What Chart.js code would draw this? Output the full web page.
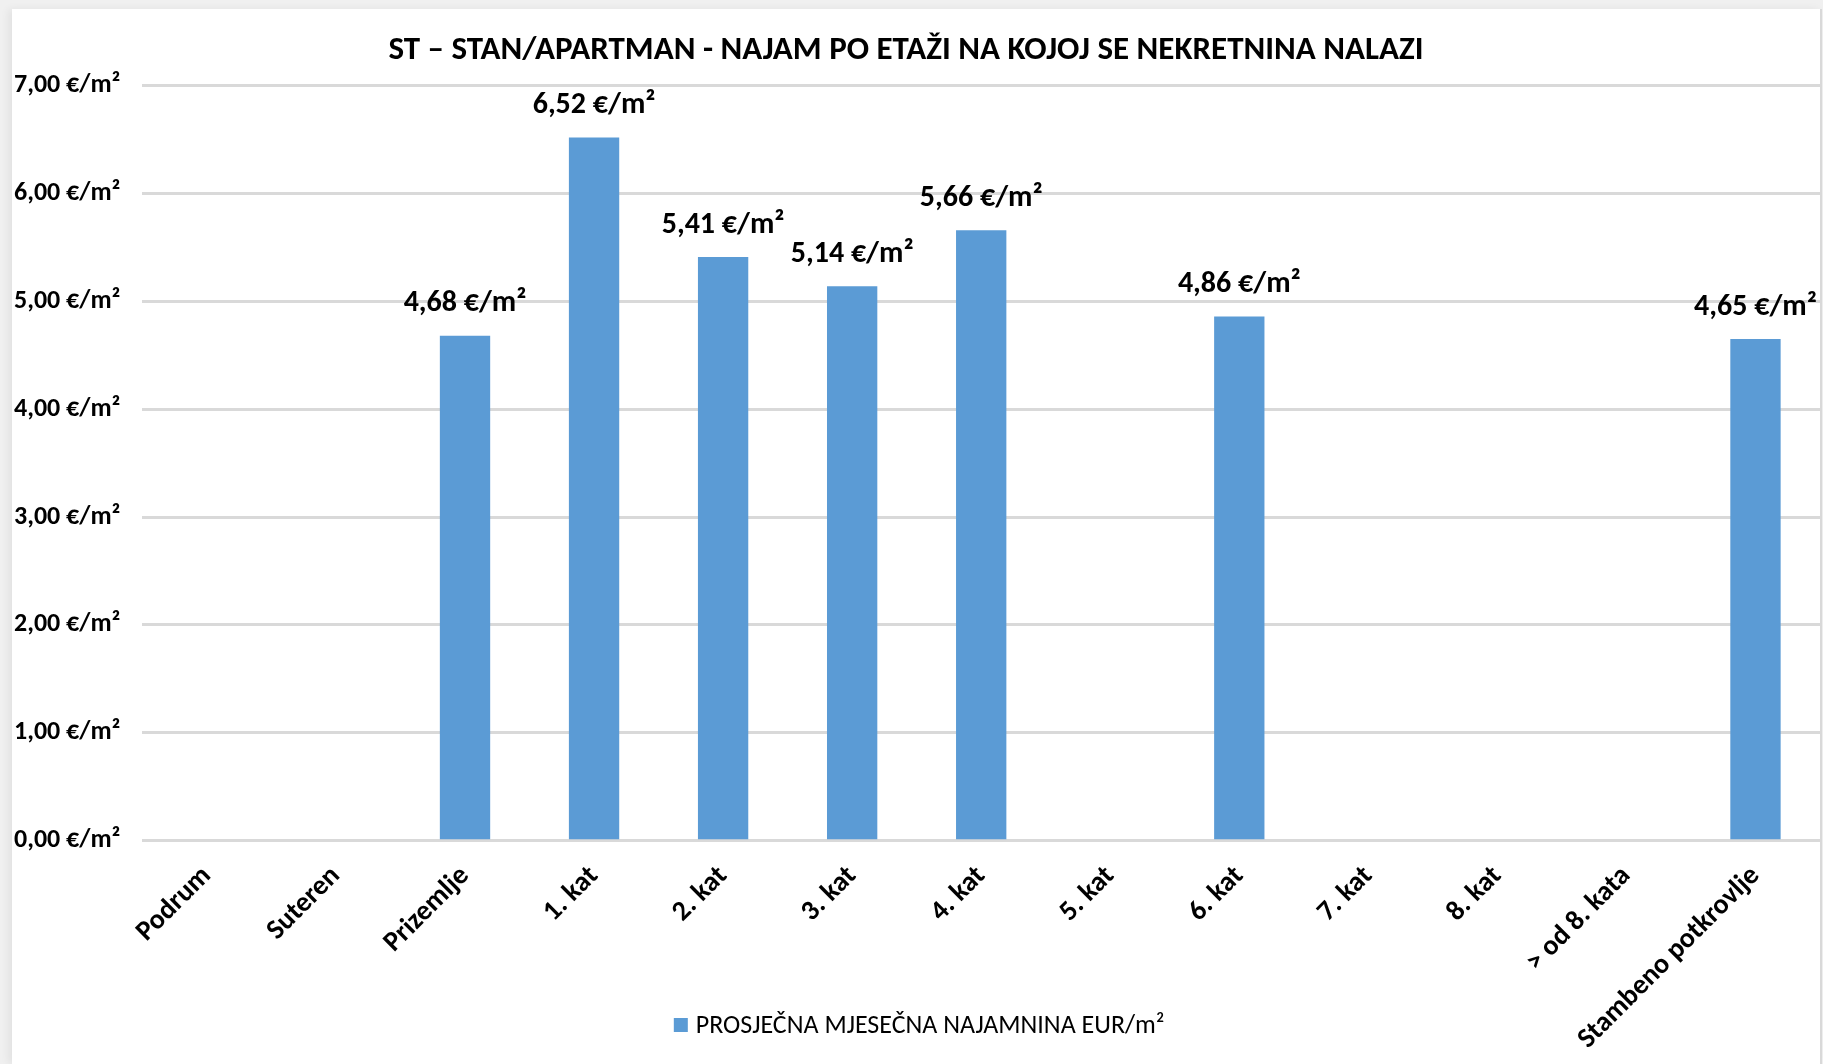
<!DOCTYPE html>
<html>
<head>
<meta charset="utf-8">
<script src="https://cdn.jsdelivr.net/npm/chart.js@4.4.1/dist/chart.umd.min.js"></script>
<style>
  html, body { margin: 0; padding: 0; background: #f0f0f0; width: 1823px; height: 1064px; overflow: hidden; }
  #panel { position: absolute; left: 12px; top: 9px; width: 1808px; height: 1055px; background: #ffffff; border-right: 2px solid #d9d9d9; box-shadow: -4px 0 8px rgba(0,0,0,0.06); }
  canvas { display: block; }
</style>
</head>
<body>
<div id="panel"><canvas id="c" width="1808" height="1055"></canvas></div>
<script>
const categories = ['Podrum', 'Suteren', 'Prizemlje', '1. kat', '2. kat', '3. kat', '4. kat', '5. kat', '6. kat', '7. kat', '8. kat', '> od 8. kata', 'Stambeno potkrovlje'];
const rentValues = [null, null, 4.68, 6.52, 5.41, 5.14, 5.66, null, 4.86, null, null, null, 4.65];
const seriesName = 'PROSJEČNA MJESEČNA NAJAMNINA EUR/m²';
const chartTitle = 'ST – STAN/APARTMAN - NAJAM PO ETAŽI NA KOJOJ SE NEKRETNINA NALAZI';
const yTicks = [0, 1, 2, 3, 4, 5, 6, 7];

const FONT = 'Carlito, Lato, "Open Sans", sans-serif';
const fmt = v => v.toFixed(2).replace('.', ',') + ' €/m²';

const dataLabels = {
  id: 'dataLabels',
  afterDatasetsDraw(chart) {
    const ctx = chart.ctx;
    const meta = chart.getDatasetMeta(0);
    ctx.save();
    ctx.font = 'bold 30px ' + FONT;
    ctx.fillStyle = '#000';
    ctx.textAlign = 'center';
    ctx.textBaseline = 'middle';
    meta.data.forEach((bar, i) => {
      const v = chart.data.datasets[0].data[i];
      if (v == null) return;
      const txt = fmt(v);
      const w = ctx.measureText(txt).width;
      let x = bar.x;
      const maxX = chart.width - w / 2 - 3;
      if (x > maxX) x = maxX;
      ctx.fillText(txt, x, bar.y - 32);
    });
    ctx.restore();
  }
};

const customLegend = {
  id: 'customLegend',
  afterDraw(chart) {
    const ctx = chart.ctx;
    const ds = chart.data.datasets[0];
    ctx.save();
    ctx.font = '26px ' + FONT;
    const tw = ctx.measureText(ds.label).width;
    const box = 14, gap = 8;
    const total = box + gap + tw;
    const cx = (chart.chartArea.left + chart.chartArea.right) / 2 - 62;
    const y = chart.height - 39;
    const x0 = cx - total / 2;
    ctx.fillStyle = ds.backgroundColor;
    ctx.fillRect(x0, y - box / 2, box, box);
    ctx.fillStyle = '#000';
    ctx.textBaseline = 'middle';
    ctx.textAlign = 'left';
    ctx.fillText(ds.label, x0 + box + gap, y + 1);
    ctx.restore();
  }
};

new Chart(document.getElementById('c'), {
  type: 'bar',
  data: {
    labels: categories,
    datasets: [{
      label: seriesName,
      data: rentValues,
      backgroundColor: '#5b9bd5',
      borderWidth: 0,
      categoryPercentage: 1.0,
      barPercentage: 0.39
    }]
  },
  options: {
    responsive: false,
    animation: false,
    layout: { padding: { left: -20, right: 0, top: 0, bottom: -11 } },
    plugins: {
      legend: { display: false },
      tooltip: { enabled: false },
      title: {
        display: true,
        text: chartTitle,
        color: '#000',
        font: { family: FONT, size: 33, weight: 'bold' },
        padding: { top: 22, bottom: 15 }
      }
    },
    scales: {
      x: {
        grid: { display: false, drawTicks: false },
        border: { display: false },
        ticks: {
          color: '#000',
          font: { family: FONT, size: 28, weight: 'bold' },
          maxRotation: 45,
          minRotation: 45,
          autoSkip: false,
          padding: 19
        }
      },
      y: {
        min: 0,
        max: 7,
        afterBuildTicks: (scale) => { scale.ticks = yTicks.map(v => ({ value: v })); },
        grid: { color: '#d9d9d9', lineWidth: 3, drawTicks: false },
        border: { display: false },
        ticks: {
          color: '#000',
          font: { family: FONT, size: 26, weight: 'bold' },
          padding: 22,
          callback: (v) => fmt(v)
        }
      }
    }
  },
  plugins: [dataLabels, customLegend]
});
</script>
</body>
</html>
